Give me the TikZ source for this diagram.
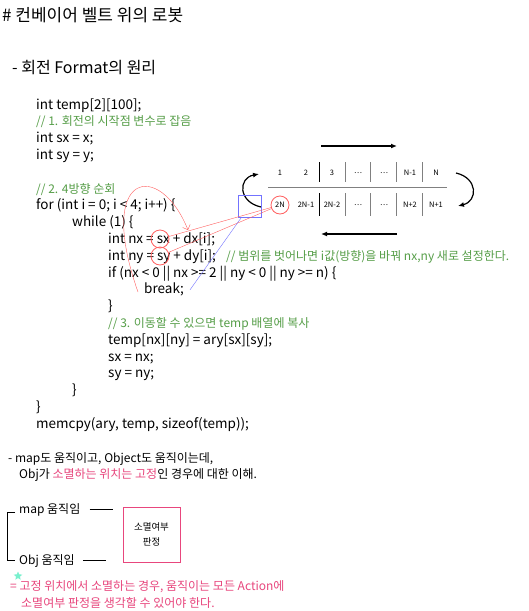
\documentclass[tikz,border=0pt]{standalone}
\usepackage{fontspec}
\setmainfont{Noto Sans CJK KR}
\usetikzlibrary{positioning,arrows.meta,shapes.geometric}
\definecolor{cmtgreen}{RGB}{86,158,72}
\definecolor{notepink}{RGB}{232,70,125}
\definecolor{markred}{RGB}{255,95,95}
\definecolor{markblue}{RGB}{115,115,255}
\definecolor{starcyan}{RGB}{120,240,205}
\tikzset{
  code/.style={anchor=base west, inner sep=0pt, font=\fontsize{13.5}{16}\selectfont},
  cmt/.style={code, text=cmtgreen, font=\fontsize{12}{15}\selectfont},
  bodytxt/.style={anchor=base west, inner sep=0pt, font=\fontsize{12}{15}\selectfont},
  cell/.style={inner sep=0pt, font=\fontsize{7.5}{9}\selectfont},
  redring/.style={circle, draw=markred, line width=0.8pt, minimum size=18pt, inner sep=0pt},
  beltarrow/.style={line width=1.6pt, -{Latex[length=6pt,width=5pt]}}
}

\begin{document}
\begin{tikzpicture}[x=1pt, y=-1pt]
\path[use as bounding box, fill=white] (0,0) rectangle (528,611);

\node (title) [anchor=base west, inner sep=0pt, font=\fontsize{17}{20}\selectfont] at (2,21) {\# 컨베이어 벨트 위의 로봇};
\node (sub) [anchor=base west, inner sep=0pt, font=\fontsize{16}{19}\selectfont] at (12,73) {- 회전 Format의 원리};

% code
\node (l0) [code] at (36,109) {int temp[2][100];};
\node (l1) [cmt] at (36,125.8) {// 1. 회전의 시작점 변수로 잡음};
\node (l2) [code] at (36,142.6) {int sx = x;};
\node (l3) [code] at (36,159.4) {int sy = y;};
\node (l5) [cmt] at (36,193) {// 2. 4방향 순회};
\node (l6) [code] at (36,209.8) {for (int i = 0; i < 4; i++) \{};
\node (l7) [code] at (72,226.6) {while (1) \{};
\node (l8) [code] at (108,243.4) {int nx = sx + dx[i];};
\node (l9) [code] at (108,260.2) {int ny = sy + dy[i];};
\node (note) [cmt] at (226,260.2) {// 범위를 벗어나면 i값(방향)을 바꿔 nx,ny 새로 설정한다.};
\node (l10) [code] at (108,277) {if (nx < 0 || nx >= 2 || ny < 0 || ny >= n) \{};
\node (l11) [code] at (144,293.8) {break;};
\node (l12) [code] at (108,310.6) {\}};
\node (l13) [cmt] at (108,327.4) {// 3. 이동할 수 있으면 temp 배열에 복사};
\node (l14) [code] at (108,344.2) {temp[nx][ny] = ary[sx][sy];};
\node (l15) [code] at (108,361) {sx = nx;};
\node (l16) [code] at (108,377.8) {sy = ny;};
\node (l17) [code] at (72,394.6) {\}};
\node (l18) [code] at (36,411.4) {\}};
\node (l19) [code] at (36,428.2) {memcpy(ary, temp, sizeof(temp));};

% belt
\foreach \t [count=\i] in {1,2,3,…,…,N-1,N}
  \node (t\i) [cell] at ({254+26*\i},173) {\t};
\foreach \t [count=\i] in {2N,2N-1,2N-2,…,…,N+2,N+1}
  \node (b\i) [cell] at ({254+26*\i},205) {\t};
\draw[gray] (268,187) -- (447,187);
\draw[line width=1pt] (319,162) -- (319,182) (319,193) -- (319,216);
\foreach \x in {345.5,370.5,396.5,422.5}
  \draw[gray] (\x,162) -- (\x,182) (\x,193) -- (\x,216);
\coordinate (topL) at (321,146);
\coordinate (topR) at (397,146);
\coordinate (botL) at (321,234);
\coordinate (botR) at (397,234);
\draw[beltarrow] (topL) -- (topR);
\draw[beltarrow] (botR) -- (botL);
\coordinate (leftS) at (261,207);
\coordinate (leftE) at (259,174);
\coordinate (rightS) at (456,173);
\coordinate (rightE) at (458,206);
\draw[beltarrow, line width=1.2pt] (leftS) .. controls (238,202) and (238,178) .. (leftE);
\draw[beltarrow, line width=1.2pt] (rightS) .. controls (478,178) and (478,201) .. (rightE);

% marks
\node (bluebox) [draw=markblue, line width=0.8pt, minimum width=23pt, minimum height=22pt, inner sep=0pt] at (249.5,206) {};
\node (c2n) [redring] at (b1) {};
\node (csx) [redring] at (160,239) {};
\node (csy) [redring] at (160,256) {};
\draw[markred] (csx) -- (c2n);
\draw[markred] (csy) -- (c2n);
\draw[markblue] ([xshift=6pt]l11.east) -- (bluebox);
\coordinate (loopS) at (138,292);
\coordinate (loopE) at (188,230);
\draw[markred, -{Straight Barb[length=4pt,width=8pt]}] (loopS) .. controls (95,170) and (160,160) .. (loopE);

% bottom
\node (intro1) [bodytxt] at (8,462) {- map도 움직이고, Object도 움직이는데,};
\node (intro2) [bodytxt] at (19,478) {Obj가 \textcolor{notepink}{소멸하는 위치는 고정}인 경우에 대한 이해.};
\node (mapmv) [bodytxt] at (19,513) {map 움직임};
\node (objmv) [bodytxt] at (19,564) {Obj 움직임};
\node (judge) [draw=notepink, line width=0.8pt, minimum width=57pt, minimum height=55pt, align=center, font=\fontsize{9.5}{15}\selectfont] at (151.5,534.5) {소멸여부\\판정};
\draw ([xshift=-4pt,yshift=-3pt]mapmv.west) -- ++(-8,0) |- ([xshift=-4pt]objmv.west);
\draw ([xshift=9pt]mapmv.east) -- ++(23,0);
\draw ([xshift=8pt]objmv.east) -- ++(23,0);
\node (spark) [star, star points=5, star point ratio=2.2, fill=starcyan, minimum size=9pt, inner sep=0pt] at (18,576) {};
\node (concl1) [bodytxt, text=notepink] at (10,590) {= 고정 위치에서 소멸하는 경우, 움직이는 모든 Action에};
\node (concl2) [bodytxt, text=notepink] at (21,607) {소멸여부 판정을 생각할 수 있어야 한다.};
\end{tikzpicture}
\end{document}
